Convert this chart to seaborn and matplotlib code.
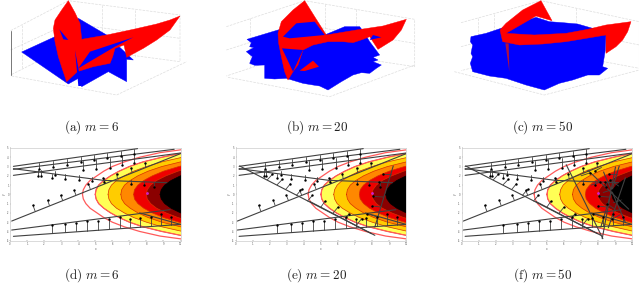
import numpy as np
import matplotlib
matplotlib.use("Agg")
import matplotlib.pyplot as plt
import seaborn as sns

sns.set_theme(style="white")
plt.rcParams['mathtext.fontset'] = 'cm'

# ---- level sets (bottom row): x of each contour at y = 0, .5, 1, ...
level_y = [0, 0.5, 1, 1.5, 2, 2.5, 3, 3.5, 4, 4.5, 5]
outer_line = [4.25, 4.3, 4.45, 4.7, 5.1, 5.5, 6.0, 6.7, 7.6, 8.8, 10.8]
level_yellow = [5, 5.05, 5.2, 5.5, 5.9, 6.4, 7.0, 7.8, 8.9, 10.2]
level_gold = [5.75, 5.8, 5.95, 6.25, 6.7, 7.25, 8, 8.9, 10.1]
level_orange = [6.5, 6.55, 6.72, 7.05, 7.5, 8.1, 8.9, 10, 11.2]
level_red = [7.25, 7.3, 7.5, 7.85, 8.35, 9.0, 9.9, 11]
level_dark = [8, 8.05, 8.25, 8.6, 9.15, 9.85, 10.8]
level_black = [8.8, 8.87, 9.07, 9.45, 10.0, 10.8]
level_colors = ['#ffff55', '#ffcc00', '#ff8800', '#ee0000', '#8b0000', '#000000']

# ---- hyperplanes and normals, (x0, y0, x1, y1)
lines_m6 = [(.2, 3.02, 7.48, 4.93), (.2, 2.7, 9.63, 4.86), (.2, 2.05, 10, 4.46),
            (.2, 2.77, 5.48, 1.51), (5.48, 1.51, 9.2, 1.26), (.1, -2.88, 10, 4.39),
            (.1, -3.85, 9.4, -1.65), (.2, -4.53, 10, -3.24), (7.6, -2.0, 10, -3.24)]
arrows_m6 = [(1.72, 3.42, 1.72, 2.77), (2.54, 3.63, 2.54, 2.95), (3.33, 3.84, 3.33, 3.2),
             (4.15, 4.06, 4.15, 3.45), (4.93, 4.26, 4.93, 3.7), (5.71, 4.47, 5.71, 3.9),
             (6.5, 4.68, 6.5, 4.1), (7.28, 4.88, 7.28, 4.3),
             (4.27, 3.6, 4.27, 2.59), (5.05, 3.78, 5.05, 2.77), (5.87, 3.96, 5.87, 2.88),
             (6.56, 4.14, 6.56, 3.13), (7.3, 4.28, 7.3, 3.42),
             (1.66, 2.6, 1.66, 1.94), (1.8, 2.6, 1.8, 1.94), (2.64, 2.48, 2.64, 2.05),
             (2.45, 2.23, 2.45, 1.76), (3.23, 2.23, 3.23, 1.69), (4.05, 2.05, 4.05, 1.51),
             (4.79, 1.87, 4.79, 1.4), (5.52, 1.76, 5.52, 1.33),
             (7.1, 1.58, 7.1, 1.08), (7.83, 1.44, 7.83, .97), (8.47, 1.33, 8.47, .79),
             (1.47, -1.8, 1.35, -1.19), (2.31, -1.19, 2.21, -.65), (3.09, -.65, 2.97, -.11),
             (3.86, -.04, 3.76, .43), (4.7, .61, 4.6, 1.15), (5.54, 1.26, 5.48, 1.76),
             (6.3, 1.69, 6.26, 2.23), (7.16, 2.34, 7.1, 2.84), (7.96, 2.88, 7.93, 3.42),
             (2.45, -4.14, 2.45, -3.35), (3.23, -4.06, 3.23, -3.17), (3.87, -3.99, 3.87, -3.09),
             (4.54, -3.92, 4.54, -2.91), (5.19, -3.81, 5.19, -2.91), (5.83, -3.71, 5.83, -2.7),
             (6.46, -3.63, 6.46, -2.45), (7.05, -3.56, 7.05, -2.7), (7.63, -3.49, 7.63, -2.55),
             (8.26, -3.42, 8.26, -2.45), (8.85, -3.35, 8.85, -2.09), (9.45, -3.27, 9.45, -2.45)]
lines_m20 = [(.23, 3.06, 7.96, -4.24), (4.34, -.76, 8.16, -4.42), (9.24, 3.06, 8.16, -3.53)]
arrows_m20 = [(1.86, 1.58, 2.15, 2.16), (2.43, 1.04, 2.74, 1.62), (2.94, .54, 3.21, 1.15),
              (3.56, -.11, 3.86, .54), (4.21, -.72, 4.5, -.11), (4.97, -1.44, 5.23, -.76),
              (5.68, -2.09, 5.99, -1.4), (6.4, -2.73, 6.63, -2.12), (7.08, -3.35, 7.38, -2.63),
              (9.14, 2.12, 8.65, 2.16), (8.9, 1.26, 8.38, 1.33), (8.64, -.29, 8.06, -.22),
              (8.51, -1.37, 8.02, -1.26), (8.32, -2.45, 7.73, -2.09)]
lines_m50 = [(6.13, 3.2, 8.28, -4.78), (9.02, 2.95, 8.24, -4.78), (8.32, 2.41, 9.59, -2.99),
             (7.4, 2.6, 9.8, -1.6), (9.6, 1.8, 8.6, -3.6)]
arrows_m50 = [(7.0, 2.0, 7.5, 2.3), (7.6, 1.0, 8.1, 1.3), (8.3, .2, 8.8, .5),
              (8.9, -.9, 9.4, -.6), (9.2, .9, 8.7, 1.6), (9.0, -1.6, 8.5, -1.0),
              (8.2, 2.9, 7.8, 2.5), (9.3, -2.2, 8.8, -2.7)]
center_point = (8.02, .18)

# ---- surfaces (top row), read in crop units of each panel
floor_a = [(65, 156), (165, 110), (235, 55), (320, 105), (400, 180), (380, 178), (380, 245),
           (325, 215), (245, 260), (235, 235), (205, 252)]
red_a = [(205, 2), (225, 38), (240, 70), (245, 118), (320, 105), (400, 88), (470, 72), (510, 60),
         (540, 48), (510, 90), (470, 120), (430, 145), (380, 172), (372, 135), (345, 145),
         (338, 170), (330, 190), (280, 200), (232, 215), (200, 245), (188, 210), (175, 170),
         (165, 125), (160, 85), (165, 60), (185, 30)]
holes_a = [[(178, 88), (190, 118), (205, 120)],
           [(270, 155), (400, 112), (345, 140), (235, 205)],
           [(225, 150), (245, 258), (235, 258)]]
floor_b = [(102, 118), (195, 90), (300, 60), (335, 105), (395, 80), (440, 80), (455, 100), (470, 125),
           (500, 165), (480, 172), (495, 180), (480, 185), (505, 195), (490, 205), (470, 220),
           (445, 218), (420, 225), (385, 245), (345, 270), (320, 258), (300, 255), (270, 250),
           (220, 235), (185, 237), (155, 235), (155, 195), (125, 196), (110, 190), (118, 170),
           (100, 155), (122, 143), (110, 140), (115, 128)]
red_b = [(275, 2), (305, 50), (340, 105), (430, 90), (510, 78), (580, 58), (565, 90), (540, 120),
         (495, 148), (480, 125), (470, 110), (450, 118), (420, 128), (390, 125), (345, 125),
         (300, 135), (270, 150), (255, 195), (240, 215), (225, 240), (215, 215), (205, 170),
         (197, 130), (195, 100), (205, 65), (240, 30)]
holes_b = [[(210, 110), (250, 70), (305, 65), (335, 105), (230, 115)],
           [(207, 145), (270, 150), (240, 215)],
           [(480, 105), (505, 112), (470, 120)]]
patch_b = [(260, 212), (300, 182), (318, 200), (275, 213)]
floor_c = [(135, 110), (180, 100), (225, 85), (280, 68), (330, 52), (370, 65), (410, 68), (455, 72),
           (500, 85), (540, 105), (538, 150), (530, 200), (545, 205), (520, 225), (485, 225),
           (440, 240), (400, 250), (355, 270), (300, 255), (240, 235), (190, 228), (140, 215),
           (133, 190), (140, 170), (135, 160), (140, 135), (133, 125)]
red_c = [(345, 2), (378, 62), (330, 48), (240, 100), (325, 105), (420, 100), (485, 88), (540, 75),
         (615, 65), (605, 95), (590, 120), (570, 140), (540, 160), (540, 105), (480, 115), (420, 125),
         (350, 132), (280, 135), (230, 125), (222, 90), (240, 70), (290, 30)]
streak_c = [(238, 130), (248, 130), (250, 215)]
box_a = [[(32, 92), (205, 2), (540, 45), (540, 185), (200, 140), (32, 225)],
         [(205, 2), (200, 140)], [(65, 75), (65, 205)], [(305, 15), (305, 155)], [(405, 30), (405, 170)],
         [(32, 150), (205, 70), (540, 115)], [(35, 228), (350, 285), (560, 185)]]
axis_a = [(32, 92), (32, 225)]
box_b = [[(40, 80), (275, 2), (605, 58), (605, 200), (275, 150), (40, 228)],
         [(110, 55), (110, 200)], [(335, 12), (335, 160)], [(430, 28), (430, 175)],
         [(40, 150), (275, 75), (605, 130)], [(45, 232), (350, 290), (605, 195)]]
box_c = [[(105, 68), (345, 2), (640, 65), (640, 205), (345, 150), (105, 212)],
         [(155, 55), (155, 200)], [(205, 42), (205, 190)], [(450, 25), (450, 170)],
         [(105, 140), (345, 75), (640, 135)], [(85, 215), (355, 285), (640, 210)]]

captions_top = ['a', 'b', 'c']
captions_bottom = ['d', 'e', 'f']
m_values = [6, 20, 50]
tick_labels_x = ['0', '1', '2', '3', '4', '5', '6', '7', '8', '9', '10']
tick_labels_y = ['-5', '-4', '-3', '-2', '-1', '0', '1', '2', '3', '4', '5']

fig = plt.figure(figsize=(6.4, 2.84), dpi=100)


def segment(ax, xs, ys, color, lw, ls='-', z=3):
    sns.lineplot(x=xs, y=ys, sort=False, estimator=None, color=color, lw=lw, ls=ls,
                 ax=ax, legend=False, zorder=z)


def level_polygon(xvals):
    ys = np.array(level_y[:len(xvals)])
    xs = np.array(xvals)
    return np.r_[xs, xs[::-1]], np.r_[ys, -ys[::-1]]


# top row
tops = [(0, floor_a, red_a, holes_a, box_a), (213, floor_b, red_b, holes_b, box_b),
        (426, floor_c, red_c, [], box_c)]
for i, (left, floor, red, holes, box) in enumerate(tops):
    ax = fig.add_axes([left / 640, 1 - 142 / 284, 213 / 640, 142 / 284])
    ax.set_xlim(0, 639)
    ax.set_ylim(426, 0)
    ax.axis('off')
    for b in box:
        pts = np.array(b)
        segment(ax, pts[:, 0], pts[:, 1], '#dddddd', 0.5, ls='--', z=1)
    if i == 0:
        pts = np.array(axis_a)
        segment(ax, pts[:, 0], pts[:, 1], '#777777', 0.7, z=1)
    ax.fill(*zip(*floor), color='#0000ff', lw=0.3, zorder=2)
    ax.fill(*zip(*red), color='#ff0000', lw=0.3, zorder=3)
    for h in holes:
        ax.fill(*zip(*h), color='#0000ff', lw=0, zorder=4)
    if i == 1:
        ax.fill(*zip(*patch_b), color='#ff0000', lw=0, zorder=5)
    if i == 2:
        ax.fill(*zip(*streak_c), color='#b01040', lw=0, zorder=5)
    fig.text((left + [92, 104, 117][i]) / 640, 1 - 127 / 284,
             r'$\mathrm{(%s)}\ m = %d$' % (captions_top[i], m_values[i]),
             ha='center', va='center', fontsize=9.5, color='#222222')

# bottom row
lefts = [10, 235.7, 461.7]
line_sets = [lines_m6, lines_m6 + lines_m20, lines_m6 + lines_m20 + lines_m50]
arrow_sets = [arrows_m6, arrows_m6 + arrows_m20, arrows_m6 + arrows_m20 + arrows_m50]
for i, left in enumerate(lefts):
    ax = fig.add_axes([left / 640, 1 - 240.7 / 284, 170.5 / 640, 92.7 / 284])
    ax.set_xlim(0, 10)
    ax.set_ylim(-5, 5)
    for level, col in zip([level_yellow, level_gold, level_orange, level_red, level_dark, level_black],
                          level_colors):
        px, py = level_polygon(level)
        ax.fill(px, py, color=col, lw=0, zorder=1)
        segment(ax, px, py, '#d83000' if col != '#000000' else '#000000', 0.5, z=2)
    px, py = level_polygon(outer_line)
    segment(ax, px, py, '#ff5a5a', 0.9, z=2)
    px, py = level_polygon(level_yellow)
    segment(ax, px, py, '#ff5a5a', 0.9, z=2)
    for x0, y0, x1, y1 in line_sets[i]:
        segment(ax, [x0, x1], [y0, y1], '#404040', 0.8, z=3)
    arr = arrow_sets[i]
    for x0, y0, x1, y1 in arr:
        segment(ax, [x0, x1], [y0, y1], '#404040', 0.6, z=4)
    sns.scatterplot(x=[a[2] for a in arr], y=[a[3] for a in arr], s=3, color='black',
                    linewidth=0, ax=ax, zorder=5, legend=False)
    sns.scatterplot(x=[center_point[0]], y=[center_point[1]], s=4, color='#d020d0',
                    linewidth=0, ax=ax, zorder=6, legend=False)
    ax.set_xticks(range(11))
    ax.set_xticklabels(tick_labels_x)
    ax.set_yticks(range(-5, 6))
    ax.set_yticklabels(tick_labels_y)
    ax.tick_params(direction='in', length=1, width=0.3, labelsize=1.8, pad=0.8,
                   colors='#555555', bottom=True, left=True)
    ax.set_xlabel('x', fontsize=2, labelpad=0.5, color='#555555')
    ax.set_ylabel('y', fontsize=2, labelpad=0.5, color='#555555')
    for sp in ax.spines.values():
        sp.set_color('#cccccc')
        sp.set_linewidth(0.5)
    fig.text([92, 317, 543][i] / 640, 1 - 275 / 284,
             r'$\mathrm{(%s)}\ m = %d$' % (captions_bottom[i], m_values[i]),
             ha='center', va='center', fontsize=9.5, color='#222222')

fig.savefig('out.png', dpi=100)
